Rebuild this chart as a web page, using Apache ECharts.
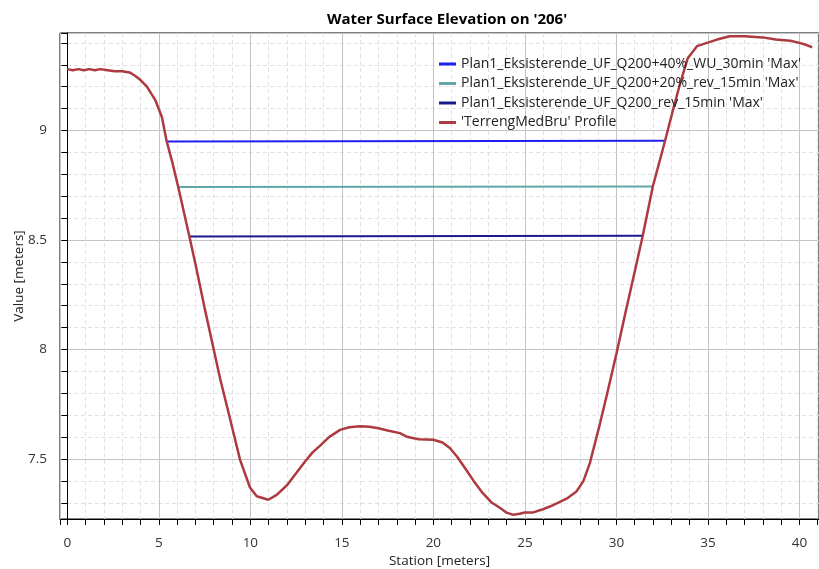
<!DOCTYPE html>
<html>
<head>
<meta charset="utf-8">
<script src="https://cdn.jsdelivr.net/npm/echarts@6/dist/echarts.min.js"></script>
<style>
  html, body { margin: 0; padding: 0; background: #fff; }
  #chart { width: 819px; height: 569px; }
</style>
</head>
<body>
<div id="chart"></div>
<script>
// series names
const seriesNames = [
  "Plan1_Eksisterende_UF_Q200+40%_WU_30min 'Max'",
  "Plan1_Eksisterende_UF_Q200+20%_rev_15min 'Max'",
  "Plan1_Eksisterende_UF_Q200_rev_15min 'Max'",
  "'TerrengMedBru' Profile"
]

// water surface lines: [station start, station end], [elev start, elev end]
const q40Station = [5.43, 32.66]
const q40Elev = [8.950, 8.953]
const q20Station = [6.06, 31.99]
const q20Elev = [8.742, 8.744]
const q0Station = [6.67, 31.44]
const q0Elev = [8.516, 8.519]

// terrain profile
const terrainStation = [
  0.0, 0.3, 0.6, 0.9, 1.2, 1.5, 1.8, 2.2, 2.6, 3.0, 3.4, 3.7, 4.0, 4.35, 4.8,
  5.17, 5.43, 5.72, 6.06, 6.67, 7.0, 7.5, 8.0, 8.34, 8.9, 9.44, 9.98, 10.35,
  10.98, 11.44, 12.0, 12.5, 13.0, 13.4, 13.8, 14.3, 14.9, 15.4, 16.0, 16.5,
  17.0, 17.5, 18.17, 18.6, 19.2, 20.0, 20.5, 20.9, 21.3, 21.8, 22.2, 22.7,
  23.2, 23.65, 24.0, 24.37, 24.7, 25.0, 25.46, 25.9, 26.37, 26.8, 27.3, 27.8,
  28.0, 28.2, 28.55, 29.11, 29.5, 30.0, 30.5, 31.0, 31.44, 31.99, 32.66,
  33.05, 33.5, 33.9, 34.4, 34.95, 35.5, 36.2, 37.0, 38.0, 38.7, 39.5, 40.0,
  40.4, 40.7
]
const terrainElev = [
  9.28, 9.275, 9.28, 9.275, 9.28, 9.275, 9.28, 9.275, 9.27, 9.27, 9.265, 9.25,
  9.23, 9.2, 9.14, 9.06, 8.95, 8.86, 8.742, 8.516, 8.39, 8.19, 8.0, 7.87,
  7.68, 7.496, 7.37, 7.33, 7.314, 7.336, 7.38, 7.435, 7.49, 7.53, 7.56, 7.6,
  7.633, 7.645, 7.65, 7.647, 7.64, 7.63, 7.618, 7.6, 7.59, 7.588, 7.575, 7.55,
  7.51, 7.45, 7.4, 7.344, 7.3, 7.276, 7.255, 7.245, 7.25, 7.256, 7.256, 7.268,
  7.283, 7.3, 7.32, 7.35, 7.374, 7.4, 7.481, 7.664, 7.8, 7.98, 8.17, 8.355,
  8.519, 8.744, 8.953, 9.08, 9.22, 9.33, 9.385, 9.4, 9.415, 9.43, 9.43, 9.425,
  9.415, 9.41, 9.4, 9.39, 9.38
]

const colors = ['#1f1ff2', '#62a6a6', '#1a1a8e', '#ad3a40']
const font = '"Open Sans", "Noto Sans", sans-serif'

const pairs = (xs, ys) => xs.map((x, i) => [x, ys[i]])

const myChart = echarts.init(document.getElementById('chart'), null, { renderer: 'canvas' })

const option = {
  backgroundColor: '#fff',
  animation: false,
  color: colors,
  title: {
    text: "Water Surface Elevation on '206'",
    left: 442,
    textAlign: 'center',
    top: 7,
    textStyle: { fontFamily: font, fontSize: 15, fontWeight: 'bold', color: '#000' }
  },
  legend: {
    orient: 'vertical',
    left: 434,
    top: 51,
    icon: 'rect',
    itemWidth: 17,
    itemHeight: 3,
    itemGap: 3.5,
    textStyle: { fontFamily: font, fontSize: 14, color: '#222', lineHeight: 16 },
    data: seriesNames
  },
  grid: {
    left: 60,
    right: 0,
    top: 33,
    bottom: 50,
    containLabel: false,
    outerBoundsMode: 'none',
    show: true,
    borderColor: '#000',
    borderWidth: 1
  },
  xAxis: {
    type: 'value',
    min: -0.4,
    max: 41.07,
    splitNumber: 8,
    name: 'Station [meters]',
    nameLocation: 'middle',
    nameGap: 35,
    nameMoveOverlap: false,
    nameTextStyle: { fontFamily: font, fontSize: 13.5, color: '#222' },
    axisLine: { lineStyle: { color: '#000', width: 1 } },
    axisTick: { length: 6, lineStyle: { color: '#000' } },
    minorTick: { show: true, splitNumber: 5, length: 6, lineStyle: { color: '#000' } },
    axisLabel: { showMinLabel: false, showMaxLabel: false, margin: 17, fontFamily: font, fontSize: 13.5, color: '#333' },
    splitLine: { lineStyle: { color: '#c4c4c4', width: 1 } },
    minorSplitLine: { show: true, lineStyle: { color: '#e2e2e2', type: [4, 3], width: 1 } }
  },
  yAxis: {
    type: 'value',
    min: 7.226,
    max: 9.445,
    splitNumber: 4,
    name: 'Value [meters]',
    nameLocation: 'middle',
    nameGap: 34,
    nameMoveOverlap: false,
    nameTextStyle: { fontFamily: font, fontSize: 13.5, color: '#222' },
    axisLine: { show: true, lineStyle: { color: '#000', width: 1 } },
    axisTick: { show: true, length: 6, lineStyle: { color: '#000' } },
    minorTick: { show: true, splitNumber: 5, length: 6, lineStyle: { color: '#000' } },
    axisLabel: { showMinLabel: false, showMaxLabel: false, margin: 13, fontFamily: font, fontSize: 13.5, color: '#333' },
    splitLine: { lineStyle: { color: '#c4c4c4', width: 1 } },
    minorSplitLine: { show: true, lineStyle: { color: '#e2e2e2', type: [4, 3], width: 1 } }
  },
  series: [
    {
      name: seriesNames[0],
      type: 'line',
      showSymbol: false,
      lineStyle: { width: 2, color: colors[0] },
      data: pairs(q40Station, q40Elev),
      z: 2
    },
    {
      name: seriesNames[1],
      type: 'line',
      showSymbol: false,
      lineStyle: { width: 2, color: colors[1] },
      data: pairs(q20Station, q20Elev),
      z: 2
    },
    {
      name: seriesNames[2],
      type: 'line',
      showSymbol: false,
      lineStyle: { width: 2, color: colors[2] },
      data: pairs(q0Station, q0Elev),
      z: 2
    },
    {
      name: seriesNames[3],
      type: 'line',
      showSymbol: false,
      lineStyle: { width: 2.5, color: colors[3] },
      data: pairs(terrainStation, terrainElev),
      z: 3
    }
  ]
}

myChart.setOption(option)
</script>
</body>
</html>
